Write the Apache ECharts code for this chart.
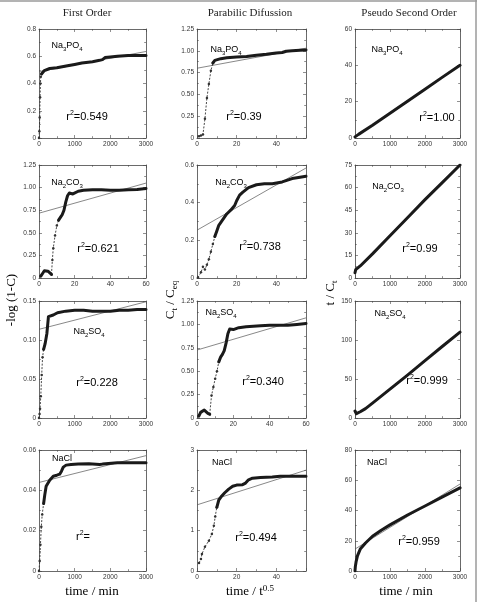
<!DOCTYPE html>
<html>
<head>
<meta charset="utf-8">
<script src="https://cdn.jsdelivr.net/npm/echarts@6/dist/echarts.min.js"></script>
<style>
  html, body { margin: 0; padding: 0; background: #fff; }
  #main { width: 478px; height: 602px; }
</style>
</head>
<body>
<div id="main"></div>
<script>
// ---- data ----
// Na3PO4
var po4FoX = [0, 10, 20, 30, 40, 50, 70, 100, 150, 200, 300, 500, 800, 1000, 1200, 1500, 1700, 1780, 1850, 2000, 2200, 2500, 2800, 3000];
var po4FoY = [0, 0.05, 0.15, 0.3, 0.4, 0.45, 0.47, 0.48, 0.495, 0.505, 0.51, 0.515, 0.53, 0.54, 0.55, 0.56, 0.57, 0.575, 0.59, 0.595, 0.6, 0.605, 0.605, 0.605];
var po4FoFitX = [0, 3000], po4FoFitY = [0.487, 0.635];
var po4PdX = [1, 2, 3, 4, 5, 6, 7, 8, 9, 10, 12, 15, 20, 25, 30, 35, 40, 43, 45, 48, 52, 55];
var po4PdY = [0.02, 0.03, 0.04, 0.22, 0.46, 0.62, 0.77, 0.86, 0.89, 0.9, 0.91, 0.92, 0.93, 0.935, 0.95, 0.96, 0.975, 0.98, 0.995, 1.0, 1.005, 1.01];
var po4PdFitX = [0, 55], po4PdFitY = [0.8, 1.03];
var po4PsX = [0, 100, 500, 1000, 1500, 2000, 2500, 3000];
var po4PsY = [0.6, 2, 7, 13.6, 20.2, 26.8, 33.5, 40];
// Na2CO3
var co3FoX = [1, 2, 3, 4, 5, 6, 7, 7.5, 8, 9, 10, 11, 12, 13, 14, 15, 16, 17, 18, 19, 20, 22, 25, 30, 35, 40, 45, 50, 55, 60];
var co3FoY = [0.02, 0.05, 0.08, 0.085, 0.075, 0.06, 0.04, 0.2, 0.33, 0.47, 0.58, 0.64, 0.67, 0.7, 0.75, 0.84, 0.91, 0.94, 0.94, 0.93, 0.945, 0.96, 0.97, 0.975, 0.975, 0.97, 0.97, 0.975, 0.98, 0.99];
var co3FoFitX = [0, 60], co3FoFitY = [0.717, 1.05];
var co3PdX = [0.5, 2, 3, 4, 5, 6, 7, 8, 9, 10, 11, 13, 15, 17, 19, 20, 21.5, 23, 26, 30, 34, 38, 43, 48, 52, 55];
var co3PdY = [0.002, 0.03, 0.06, 0.045, 0.07, 0.1, 0.14, 0.18, 0.22, 0.25, 0.28, 0.31, 0.34, 0.36, 0.385, 0.41, 0.44, 0.455, 0.48, 0.495, 0.5, 0.5, 0.51, 0.528, 0.535, 0.54];
var co3PdFitX = [0, 55], co3PdFitY = [0.254, 0.584];
var co3PsX = [0, 20, 60, 150, 500, 1000, 1500, 2000, 2500, 3000];
var co3PsY = [3.5, 5.5, 6.5, 8, 16, 28, 40, 52, 63.5, 75];
// Na2SO4
var so4FoX = [0, 15, 30, 50, 75, 100, 130, 170, 220, 265, 300, 400, 520, 750, 1000, 1250, 1500, 1750, 2000, 2250, 2500, 2750, 3000];
var so4FoY = [0, 0.005, 0.012, 0.028, 0.055, 0.078, 0.088, 0.095, 0.108, 0.13, 0.13, 0.132, 0.135, 0.137, 0.138, 0.138, 0.137, 0.137, 0.137, 0.138, 0.138, 0.139, 0.139];
var so4FoFitX = [0, 3000], so4FoFitY = [0.1137, 0.149];
var so4PdX = [1, 2, 3, 4, 5, 6, 7, 8, 9, 10, 11, 12, 13, 14, 15, 16, 17, 18, 19, 20, 23, 27, 31, 35, 40, 45, 50, 55, 60];
var so4PdY = [0.02, 0.06, 0.08, 0.085, 0.075, 0.05, 0.04, 0.24, 0.33, 0.42, 0.5, 0.6, 0.65, 0.68, 0.72, 0.8, 0.9, 0.95, 0.94, 0.945, 0.965, 0.975, 0.98, 0.985, 0.99, 0.99, 0.99, 1.0, 1.01];
var so4PdFitX = [0, 60], so4PdFitY = [0.726, 1.07];
var so4PsX = [0, 40, 80, 150, 300, 500, 1000, 1500, 2000, 2500, 3000];
var so4PsY = [9, 5.5, 6.5, 8, 12, 19, 37, 55, 73.5, 92, 110];
// NaCl
var naclFoX = [0, 20, 40, 65, 90, 130, 160, 200, 300, 400, 500, 580, 630, 680, 760, 900, 1100, 1400, 1700, 1780, 1800, 2200, 2600, 3000];
var naclFoY = [0, 0.005, 0.013, 0.022, 0.028, 0.0335, 0.0375, 0.042, 0.045, 0.047, 0.0475, 0.048, 0.0495, 0.0515, 0.0525, 0.0528, 0.053, 0.0532, 0.0528, 0.053, 0.0537, 0.0537, 0.0537, 0.0537];
var naclFoFitX = [0, 3000], naclFoFitY = [0.0439, 0.0572];
var naclPdX = [1, 2, 2.5, 4, 6, 7.5, 8.5, 9.2, 10, 11, 12.5, 14, 16, 18, 20, 23, 24.5, 26, 28, 32, 38, 42, 48, 55];
var naclPdY = [0.2, 0.3, 0.42, 0.6, 0.75, 0.92, 1.12, 1.35, 1.58, 1.76, 1.86, 1.94, 2.03, 2.1, 2.13, 2.14, 2.18, 2.26, 2.3, 2.32, 2.33, 2.35, 2.35, 2.35];
var naclPdFitX = [0, 55], naclPdFitY = [1.64, 2.5];
var naclPsX = [0, 10, 30, 70, 150, 300, 500, 750, 1000, 1500, 2000, 2500, 3000];
var naclPsY = [0, 3, 6, 10, 14.5, 18.5, 23, 27, 30.5, 37, 43, 49, 55];
var naclPsFitX = [0, 3000], naclPsFitY = [14.5, 57.5];

var columnTitles = ['First Order', 'Parabilic Difussion', 'Pseudo Second Order'];
var saltLabels = ['{n|Na}{s|3}{n|PO}{s|4}', '{n|Na}{s|2}{n|CO}{s|3}', '{n|Na}{s|2}{n|SO}{s|4}', '{n|NaCl}'];
var r2Values = ['0.549', '0.39', '1.00', '0.621', '0.738', '0.99', '0.228', '0.340', '0.999', '', '0.494', '0.959'];

// axis ranges per panel: [xMax, xInterval, yMax, yInterval, decimals]
var axisRanges = [
  [3000, 1000, 0.8, 0.2, 1], [55, 20, 1.25, 0.25, 2], [3000, 1000, 60, 20, 0],
  [60, 20, 1.25, 0.25, 2], [55, 20, 0.6, 0.2, 1], [3000, 1000, 75, 15, 0],
  [3000, 1000, 0.15, 0.05, 2], [60, 20, 1.25, 0.25, 2], [3000, 1000, 150, 50, 0],
  [3000, 1000, 0.06, 0.02, 2], [55, 20, 3, 1, 0], [3000, 1000, 80, 20, 0]
];

var panels = [
  { x: po4FoX, y: po4FoY, fx: po4FoFitX, fy: po4FoFitY, thin: [0, 6] },
  { x: po4PdX, y: po4PdY, fx: po4PdFitX, fy: po4PdFitY, thin: [0, 7] },
  { x: po4PsX, y: po4PsY, fx: null, fy: null, thin: null },
  { x: co3FoX, y: co3FoY, fx: co3FoFitX, fy: co3FoFitY, thin: [6, 11] },
  { x: co3PdX, y: co3PdY, fx: co3PdFitX, fy: co3PdFitY, thin: [0, 8] },
  { x: co3PsX, y: co3PsY, fx: null, fy: null, thin: null },
  { x: so4FoX, y: so4FoY, fx: so4FoFitX, fy: so4FoFitY, thin: [0, 6] },
  { x: so4PdX, y: so4PdY, fx: so4PdFitX, fy: so4PdFitY, thin: [6, 11] },
  { x: so4PsX, y: so4PsY, fx: null, fy: null, thin: null },
  { x: naclFoX, y: naclFoY, fx: naclFoFitX, fy: naclFoFitY, thin: [0, 5] },
  { x: naclPdX, y: naclPdY, fx: naclPdFitX, fy: naclPdFitY, thin: [0, 8] },
  { x: naclPsX, y: naclPsY, fx: naclPsFitX, fy: naclPsFitY, thin: null }
];

// ---- layout ----
var colLeft = [39, 197, 355], colWidth = [107, 109, 105];
var rowTop = [29, 165, 301, 450], rowHeight = [109, 113, 117, 121];
var saltPos = [[67, 46], [226, 50], [387, 50], [67, 183], [231, 183], [388, 187], [89, 332], [221, 313], [390, 314], [62, 459], [222, 463], [377, 463]];
var r2Pos = [[87, 117], [244, 117], [437, 118], [98, 249], [260, 247], [420, 249], [97, 383], [263, 382], [427, 381], [83, 537], [256, 538], [419, 542]];

var chart = echarts.init(document.getElementById('main'));
var axisColor = '#444';

function makeAxis(gi, pos, max, interval, showLabel, fmt) {
  return {
    type: 'value', gridIndex: gi, position: pos, min: 0, max: max, interval: interval,
    axisLine: { show: true, onZero: false, lineStyle: { color: axisColor, width: 0.8 } },
    axisTick: { show: true, inside: true, length: 3, lineStyle: { color: axisColor, width: 0.6 } },
    minorTick: { show: true, splitNumber: 2, length: 1.8, lineStyle: { color: axisColor, width: 0.6 } },
    splitLine: { show: false },
    axisLabel: {
      show: showLabel, fontSize: 6.5, color: '#333', margin: 3, fontFamily: 'Liberation Sans',
      formatter: fmt, showMaxLabel: Math.abs(max / interval - Math.round(max / interval)) < 1e-6
    }
  };
}

var grids = [], xAxes = [], yAxes = [], series = [], graphics = [];
var richSalt = {
  n: { fontSize: 9, fontFamily: 'Liberation Sans', color: '#222', lineHeight: 12 },
  s: { fontSize: 6, fontFamily: 'Liberation Sans', color: '#222', verticalAlign: 'bottom' }
};
var richR2 = {
  n: { fontSize: 11, fontFamily: 'Liberation Sans', color: '#222', lineHeight: 14 },
  p: { fontSize: 7, fontFamily: 'Liberation Sans', color: '#222', verticalAlign: 'top' }
};

panels.forEach(function (p, i) {
  var r = Math.floor(i / 3), c = i % 3;
  var ar = axisRanges[i];
  grids.push({ left: colLeft[c], width: colWidth[c], top: rowTop[r], height: rowHeight[r], show: false });
  var yfmt = function (v) { return v === 0 ? '0' : v.toFixed(ar[4]); };
  var xfmt = function (v) { return String(v); };
  xAxes.push(makeAxis(i, 'bottom', ar[0], ar[1], true, xfmt));
  xAxes.push(makeAxis(i, 'top', ar[0], ar[1], false, xfmt));
  yAxes.push(makeAxis(i, 'left', ar[2], ar[3], true, yfmt));
  yAxes.push(makeAxis(i, 'right', ar[2], ar[3], false, yfmt));

  var pts = p.x.map(function (x, j) { return [x, p.y[j]]; });
  if (p.fx) {
    series.push({
      type: 'line', xAxisIndex: 2 * i, yAxisIndex: 2 * i, z: 1,
      data: [[p.fx[0], p.fy[0]], [p.fx[1], p.fy[1]]],
      symbol: 'none', lineStyle: { color: '#555', width: 0.7 }
    });
  }
  var thick = pts.map(function (pt, j) {
    if (p.thin && j > p.thin[0] && j < p.thin[1]) return [pt[0], '-'];
    if (p.thin && p.thin[0] === 0 && j === 0) return [pt[0], '-'];
    return pt;
  });
  series.push({
    type: 'line', xAxisIndex: 2 * i, yAxisIndex: 2 * i, z: 3,
    data: thick, symbol: 'none', connectNulls: false,
    lineStyle: { color: '#1a1a1a', width: 3, join: 'round', cap: 'round' }
  });
  if (p.thin) {
    series.push({
      type: 'line', xAxisIndex: 2 * i, yAxisIndex: 2 * i, z: 2,
      data: pts.slice(p.thin[0], p.thin[1] + 1),
      symbol: 'circle', symbolSize: 2.5, showAllSymbol: true,
      itemStyle: { color: '#333' },
      lineStyle: { color: '#333', width: 0.9, type: [2, 1.5] }
    });
  }

  graphics.push({
    type: 'text', x: saltPos[i][0], y: saltPos[i][1], z: 10,
    style: { text: saltLabels[r], rich: richSalt, align: 'center', verticalAlign: 'middle' }
  });
  graphics.push({
    type: 'text', x: r2Pos[i][0], y: r2Pos[i][1], z: 10,
    style: { text: '{n|r}{p|2}{n|=' + r2Values[i] + '}', rich: richR2, align: 'center', verticalAlign: 'middle' }
  });
});

var titleX = [87, 250, 409];
columnTitles.forEach(function (t, c) {
  graphics.push({
    type: 'text', x: titleX[c], y: 13,
    style: { text: t, font: '11px "Liberation Serif"', fill: '#222', align: 'center', verticalAlign: 'middle' }
  });
});

var serifN = { fontSize: 13, fontFamily: 'Liberation Serif', color: '#222', lineHeight: 16 };
var serifSub = { fontSize: 9, fontFamily: 'Liberation Serif', color: '#222', verticalAlign: 'bottom' };
var serifSup = { fontSize: 9, fontFamily: 'Liberation Serif', color: '#222', verticalAlign: 'top' };
var axisTitles = [
  { text: '{n|-log (1-C)}', x: 12, y: 300, rot: Math.PI / 2 },
  { text: '{n|C}{b|t}{n| / C}{b|eq}', x: 171, y: 300, rot: Math.PI / 2 },
  { text: '{n|t / C}{b|t}', x: 331, y: 293, rot: Math.PI / 2 },
  { text: '{n|time / min}', x: 92, y: 592, rot: 0 },
  { text: '{n|time / t}{t|0.5}', x: 250, y: 592, rot: 0 },
  { text: '{n|time / min}', x: 406, y: 592, rot: 0 }
];
axisTitles.forEach(function (a) {
  graphics.push({
    type: 'text', x: a.x, y: a.y, rotation: a.rot,
    style: { text: a.text, rich: { n: serifN, b: serifSub, t: serifSup }, align: 'center', verticalAlign: 'middle' }
  });
});

// light frame on top and right edges
graphics.push({ type: 'line', shape: { x1: 0, y1: 1, x2: 477, y2: 1 }, style: { stroke: '#9a9a9a', lineWidth: 1.5 } });
graphics.push({ type: 'line', shape: { x1: 476, y1: 0, x2: 476, y2: 602 }, style: { stroke: '#9a9a9a', lineWidth: 1.5 } });

chart.setOption({
  animation: false,
  backgroundColor: '#fff',
  grid: grids,
  xAxis: xAxes,
  yAxis: yAxes,
  series: series,
  graphic: graphics
});
</script>
</body>
</html>
